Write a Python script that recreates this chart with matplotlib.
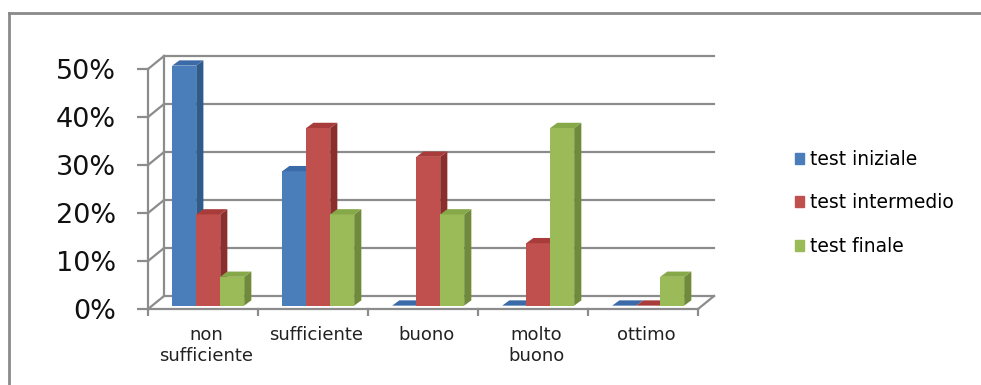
import matplotlib.pyplot as plt
from matplotlib.patches import Polygon, Patch
from matplotlib.lines import Line2D

categories = ['non\nsufficiente', 'sufficiente', 'buono', 'molto\nbuono', 'ottimo']
series = ['test iniziale', 'test intermedio', 'test finale']
iniziale = [50, 28, 0, 0, 0]
intermedio = [19, 37, 31, 13, 0]
finale = [6, 19, 19, 37, 6]
yticks = [0, 10, 20, 30, 40, 50]

values = [iniziale, intermedio, finale]
front = ['#4a7ebb', '#c0504d', '#9bbb59']
side = ['#2f5a8c', '#8b2f2d', '#6f8a3a']
top = ['#3a6aa8', '#a83c3a', '#86a848']

# 3d look: wall offset and bar depth, in data units
wdx, wdy = 0.145, 2.7
bdx, bdy = 0.065, 1.1
bw = 0.218
b0x, b0y = 0.03, 0.7
grid_c = '#8c8c8c'

fig = plt.figure(figsize=(9.81, 3.85), dpi=100)
ax = fig.add_axes([0.1397, 0.1787, 0.6055, 0.6857])
ax.set_xlim(-0.1, 5.3)
ax.set_ylim(-1.5, 53.5)
for s in ax.spines.values():
    s.set_visible(False)

n = len(categories)
# back wall grid + left wall
for g in yticks:
    ax.plot([wdx, n + wdx], [g + wdy, g + wdy], color=grid_c, lw=1.6, zorder=1)
    ax.plot([0, wdx], [g, g + wdy], color=grid_c, lw=1.6, zorder=1)
    ax.plot([-0.09, 0], [g, g], color=grid_c, lw=1.6, zorder=1)
ax.plot([wdx, wdx], [wdy, yticks[-1] + wdy], color=grid_c, lw=1.6, zorder=1)
ax.plot([0, 0], [0, yticks[-1]], color=grid_c, lw=1.6, zorder=1)
# floor
ax.plot([0, n], [0, 0], color=grid_c, lw=1.6, zorder=1)
ax.plot([n, n + wdx], [0, wdy], color=grid_c, lw=1.6, zorder=1)
for k in range(n + 1):
    ax.plot([k, k], [0, -1.2], color=grid_c, lw=1.6, zorder=1)

# bars
for i in range(n):
    for j, vals in enumerate(values):
        v = vals[i]
        x0 = i + 0.19 + b0x + j * bw
        b = b0y
        ax.bar(x0, v, width=bw, bottom=b, align='edge', color=front[j], lw=0, zorder=3)
        ax.add_patch(Polygon([(x0 + bw, b), (x0 + bw + bdx, b + bdy),
                              (x0 + bw + bdx, b + v + bdy), (x0 + bw, b + v)],
                             closed=True, color=side[j], lw=0, zorder=3))
        ax.add_patch(Polygon([(x0, b + v), (x0 + bdx, b + v + bdy),
                              (x0 + bw + bdx, b + v + bdy), (x0 + bw, b + v)],
                             closed=True, color=top[j], lw=0, zorder=3))

ax.set_yticks(yticks)
ax.set_yticklabels([f'{g}%' for g in yticks], fontsize=19.5, color='#111111')
ax.set_xticks([i + 0.53 for i in range(n)])
ax.set_xticklabels(categories, fontsize=13, color='#222222', linespacing=1.25)
ax.tick_params(axis='both', length=0)
ax.tick_params(axis='y', pad=15)
ax.tick_params(axis='x', pad=7)

handles = [Patch(color=c) for c in front]
fig.legend(handles, series, loc='center left', bbox_to_anchor=(778 / 981, 1 - 203 / 385),
           frameon=False, fontsize=13.5, handlelength=0.5, handleheight=0.5,
           handletextpad=0.3, labelspacing=1.3)

# chart border (top and left only visible)
fig.add_artist(Line2D([9 / 981, 1], [1 - 13 / 385, 1 - 13 / 385], color='#8a8a8a', lw=2))
fig.add_artist(Line2D([9 / 981, 9 / 981], [0, 1 - 13 / 385], color='#8a8a8a', lw=2))

plt.savefig('out.png', dpi=100)
